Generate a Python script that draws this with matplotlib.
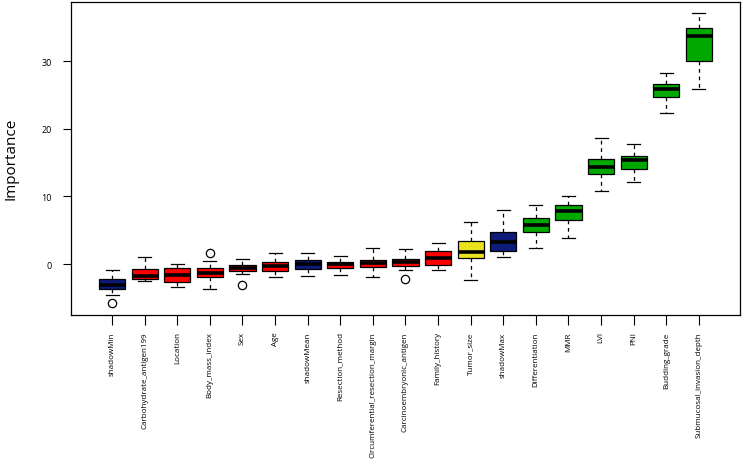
import matplotlib
matplotlib.use('Agg')
import matplotlib.pyplot as plt

# Boruta feature importance
features = ['shadowMin', 'Carbohydrate_antigen199', 'Location', 'Body_mass_index', 'Sex',
            'Age', 'shadowMean', 'Resection_method', 'Circumferential_resection_margin',
            'Carcinoembryonic_antigen', 'Family_history', 'Tumor_size', 'shadowMax',
            'Differentiation', 'MMR', 'LVI', 'PNI', 'Budding_grade', 'Submucosal_invasion_depth']
decision = ['shadow', 'rejected', 'rejected', 'rejected', 'rejected',
            'rejected', 'shadow', 'rejected', 'rejected',
            'rejected', 'rejected', 'tentative', 'shadow',
            'confirmed', 'confirmed', 'confirmed', 'confirmed', 'confirmed', 'confirmed']
whislo = [-4.6, -2.5, -3.35, -3.64, -1.5, -1.87, -1.82, -1.67, -1.87, -0.84,
          -0.94, -2.3, 1.08, 2.3, 3.9, 10.8, 12.2, 22.3, 25.9]
q1 = [-3.7, -2.2, -2.7, -1.87, -0.98, -0.98, -0.69, -0.64, -0.49, -0.25,
      -0.15, 0.89, 1.97, 4.68, 6.5, 13.3, 14.1, 24.7, 30.1]
med = [-3.05, -1.8, -1.57, -1.33, -0.64, -0.3, -0.05, -0.05, 0.15, 0.35,
       0.89, 1.72, 3.3, 5.8, 7.88, 14.4, 15.4, 25.95, 33.7]
q3 = [-2.2, -0.74, -0.54, -0.64, -0.2, 0.24, 0.54, 0.24, 0.64, 0.79,
      1.92, 3.35, 4.77, 6.8, 8.67, 15.55, 16.0, 26.6, 34.9]
whishi = [-0.84, 1.08, 0.05, 0.5, 0.79, 1.57, 1.67, 1.18, 2.3, 2.2,
          3.1, 6.25, 7.98, 8.7, 10.0, 18.6, 17.8, 28.2, 37.1]
outliers = [[-5.8], [], [], [1.62], [-3.1], [], [], [], [], [-2.27],
            [], [], [], [], [], [], [], [], []]

colours = {'shadow': '#0c1c78', 'rejected': '#ff0000',
           'tentative': '#eae21e', 'confirmed': '#00a800'}

stats = []
for i in range(len(features)):
    stats.append({'whislo': whislo[i], 'q1': q1[i], 'med': med[i], 'q3': q3[i],
                  'whishi': whishi[i], 'fliers': outliers[i], 'label': features[i]})

plt.rcParams['font.family'] = ['Open Sans', 'DejaVu Sans']

fig = plt.figure(figsize=(7.44, 4.64), dpi=100)
ax = fig.add_axes([0.0954, 0.3196, 0.8992, 0.6746])

n = len(features)
pos = list(range(1, n + 1))
bp = ax.bxp(stats, positions=pos, widths=0.8, capwidths=0.4, patch_artist=True,
            boxprops=dict(edgecolor='black', linewidth=0.9),
            medianprops=dict(color='black', linewidth=2.6, solid_capstyle='butt'),
            whiskerprops=dict(color='black', linewidth=0.9, linestyle=(0, (3, 3))),
            capprops=dict(color='black', linewidth=0.9),
            flierprops=dict(marker='o', markerfacecolor='none', markeredgecolor='black',
                            markersize=6, markeredgewidth=0.9))
for patch, d in zip(bp['boxes'], decision):
    patch.set_facecolor(colours[d])

# R style: 0.5..n+0.5 padded by 4%
ax.set_xlim(0.5 - 0.04 * n, n + 0.5 + 0.04 * n)
ax.set_ylim(-7.5, 38.8)
ax.set_yticks([0, 10, 20, 30])
ax.set_xticks(pos)
ax.set_xticklabels(features, rotation=90, fontsize=5.8)
ax.tick_params(axis='y', labelsize=6.5, length=6, width=0.8, pad=8)
ax.tick_params(axis='x', length=7, width=0.8, pad=5)
ax.set_ylabel('Importance', fontsize=11, labelpad=16)
for s in ax.spines.values():
    s.set_linewidth(0.9)

fig.savefig('out.png', dpi=100)
